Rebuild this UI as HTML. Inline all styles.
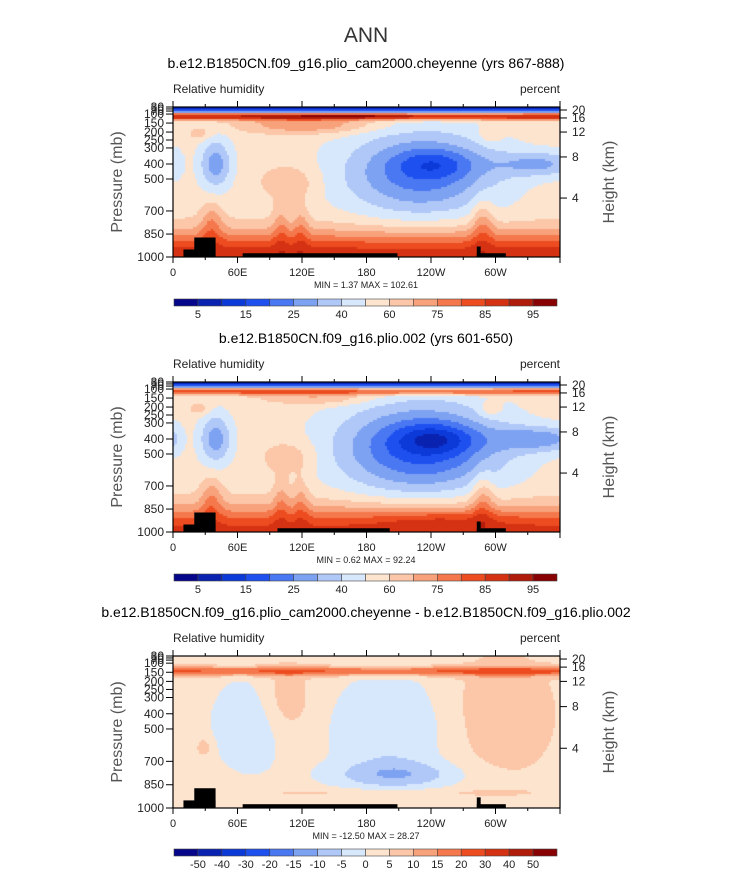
<!DOCTYPE html>
<html><head><meta charset="utf-8">
<style>
body{margin:0;background:#fff;width:733px;height:888px;overflow:hidden;font-family:"Liberation Sans",sans-serif}
#root{position:relative;width:733px;height:888px}
svg{position:absolute;left:0;top:0}
canvas{position:absolute}
</style></head><body>
<div id="root">
<canvas id="c1" width="387" height="150" style="left:173px;top:107px"></canvas>
<canvas id="c2" width="387" height="150" style="left:173px;top:382px"></canvas>
<canvas id="c3" width="387" height="152" style="left:173px;top:656px"></canvas>
<svg id="s" width="733" height="888"></svg>
</div>
<script>
const palette=["#06068a","#0a22b0","#0c3ad8","#1e50f0","#4a78f2","#7ea2f2","#b0c8f8","#d8e8fc","#fde4cf","#fbc7a8","#f8a27c","#f4784c","#ec4c20","#d43212","#b01c0a","#880204"];
const rhLabels=["5","15","25","40","60","75","85","95"];
const diffLabels=["-50","-40","-30","-20","-15","-10","-5","0","5","10","15","20","30","40","50"];
const lonLabels=["0","60E","120E","180","120W","60W"];
const presLabels=["1000","850","700","500","400","300","250","200","150","100","70","50","30"];
const presFrac=[1,0.847,0.693,0.48,0.38,0.273,0.22,0.167,0.107,0.047,0.027,0.013,0];
const kmLabels=["20","16","12","8","4"];
const kmFrac=[0.02,0.073,0.167,0.333,0.607];
// Field blobs: [u, v, su, sv, amplitude] in level units
const blobs1=[[0.5,0.065,5,0.015,5.5],[0.5,0.06,0.12,0.01,1.5],[0.35,0.12,0.12,0.04,2.5],[0.64,0.44,0.14,0.2,-4.1],[0.68,0.38,0.07,0.07,-1.8],[0.11,0.38,0.03,0.12,-3],[0.95,0.38,0.08,0.06,-2.5],[0,0.38,0.02,0.08,-1.5],[0.5,1.0,5,0.12,5.2],[0.3,0.5,0.05,0.08,1.5],[0.1,0.78,0.02,0.1,2],[0.28,0.8,0.015,0.12,1.5],[0.33,0.8,0.015,0.12,1.5],[0.8,0.78,0.02,0.12,2],[0.07,0.18,0.02,0.03,1.2],[0.82,0.18,0.02,0.04,1.2]];
const blobs2=[[0.5,0.065,5,0.015,4],[0.38,0.11,0.1,0.03,1.6],[0.64,0.44,0.15,0.21,-5.0],[0.68,0.38,0.07,0.07,-2.3],[0.11,0.38,0.03,0.12,-3],[0.95,0.38,0.08,0.06,-2.8],[0,0.38,0.02,0.08,-1.8],[0.5,1.0,5,0.12,4.8],[0.68,0.92,0.12,0.05,1.2],[0.3,0.5,0.05,0.08,1.4],[0.1,0.78,0.02,0.1,2],[0.28,0.8,0.015,0.12,1.5],[0.33,0.8,0.015,0.12,1.5],[0.8,0.78,0.02,0.12,2],[0.07,0.18,0.02,0.03,1.2],[0.82,0.18,0.02,0.04,1.2]];
const blobs3=[[0.5,0.1,5,0.022,3.6],[0.2,0.45,0.07,0.22,-1.5],[0.56,0.5,0.11,0.28,-1.5],[0.58,0.78,0.12,0.06,-1.8],[0.29,0.3,0.05,0.18,1.4],[0.85,0.38,0.1,0.3,1.3],[0.08,0.6,0.015,0.05,1.2],[0.5,0.9,0.3,0.02,0.8]];
const land1=[[0.027,0.11,0.95],[0.055,0.11,0.87],[0.18,0.58,0.975],[0.785,0.86,0.975],[0.785,0.795,0.93]];
const land2=[[0.027,0.11,0.95],[0.055,0.11,0.87],[0.27,0.56,0.975],[0.785,0.86,0.975],[0.785,0.795,0.93]];

function drawField(id,blobs,base,top){
  const c=document.getElementById(id),ctx=c.getContext('2d'),W=c.width,H=c.height,cs=2;
  for(let y=0;y<H;y+=cs){for(let x=0;x<W;x+=cs){
    const u=(x+1)/W,v=(y+1)/H;let val=base;
    for(const b of blobs){const du=(u-b[0])/b[2],dv=(v-b[1])/b[3];val+=b[4]*Math.exp(-0.5*(du*du+dv*dv));}
    if(top&&v<0.045)val=v/0.045*7.5;
    let k=Math.max(0,Math.min(15,Math.floor(val)));
    ctx.fillStyle=palette[k];ctx.fillRect(x,y,cs,cs);
  }}
}
drawField('c1',blobs1,8.5,true);
drawField('c2',blobs2,8.5,true);
drawField('c3',blobs3,8.5,false);

const NS="http://www.w3.org/2000/svg",S=document.getElementById('s');
function el(t,a,txt){const e=document.createElementNS(NS,t);for(const k in a)e.setAttribute(k,a[k]);if(txt!==undefined)e.textContent=txt;S.appendChild(e);return e;}
const t0=el('text',{x:366,y:42,'font-size':21,'text-anchor':'middle',fill:'#333'},'ANN');



function panel(top,h,title,land,cbY,labels,minmax){
  const L=173,R=560,W=R-L,B=top+h;
  const tt=el('text',{x:366,y:top-39,'font-size':14,'text-anchor':'middle',fill:'#000'},title);
  
  
  const lv=el('text',{x:173,y:top-14,'font-size':12,fill:'#222'},'Relative humidity');
  
  
  const un=el('text',{x:560,y:top-14,'font-size':12,fill:'#222','text-anchor':'end'},'percent');
  
  
  for(const l of land){
    const r=el('rect',{x:L+l[0]*W,y:top+l[2]*h,width:(l[1]-l[0])*W,height:h-l[2]*h,fill:'#000'});
    
    
  }
  const fr=el('rect',{x:L,y:top,width:W,height:h,fill:'none',stroke:'#000','stroke-width':1.2});
  
  
  for(let i=0;i<=12;i++){const x=L+i*W/12,len=i%2==0?6:3;
    el('line',{x1:x,x2:x,y1:B,y2:B+len,stroke:'#000'});el('line',{x1:x,x2:x,y1:top,y2:top-len,stroke:'#000'});}
  lonLabels.forEach((s,i)=>{const t=el('text',{x:L+i*W/6,y:B+19,'font-size':11,'text-anchor':'middle',fill:'#222'},s);
    
    });
  presLabels.forEach((s,i)=>{const y=top+presFrac[i]*h;el('line',{x1:L-7,x2:L,y1:y,y2:y,stroke:'#000'});
    const t=el('text',{x:L-9,y:y+4,'font-size':12,'text-anchor':'end',fill:'#222'},s);
    
    });
  kmLabels.forEach((s,i)=>{const y=top+kmFrac[i]*h;el('line',{x1:R,x2:R+7,y1:y,y2:y,stroke:'#000'});
    const t=el('text',{x:R+12,y:y+4,'font-size':12,fill:'#222'},s);
    
    });
  const yt=el('text',{x:0,y:0,'font-size':16,'text-anchor':'middle',fill:'#555',transform:`translate(122,${top+h/2}) rotate(-90)`},'Pressure (mb)');
  
  
  const yr=el('text',{x:0,y:0,'font-size':16,'text-anchor':'middle',fill:'#555',transform:`translate(614,${top+h/2}) rotate(-90)`},'Height (km)');
  
  
  const mm=el('text',{x:366,y:B+31,'font-size':9,'text-anchor':'middle',fill:'#222','xml:space':'preserve'},minmax);
  
  
  const cx0=174,cw=(557-174)/16;
  palette.forEach((c,i)=>{const r=el('rect',{x:cx0+i*cw,y:cbY,width:cw,height:7,fill:c,stroke:'#444','stroke-width':0.6});
    
    });
  const step=labels.length>8?1:2;
  labels.forEach((s,i)=>{const t=el('text',{x:cx0+(1+i*step)*cw,y:cbY+19,'font-size':11,'text-anchor':'middle',fill:'#222'},s);
    
    });
}
panel(107,150,'b.e12.B1850CN.f09_g16.plio_cam2000.cheyenne (yrs 867-888)',land1,299,rhLabels,'MIN =    1.37   MAX = 102.61');
panel(382,150,'b.e12.B1850CN.f09_g16.plio.002 (yrs 601-650)',land2,574,rhLabels,'MIN =    0.62   MAX =  92.24');
panel(656,152,'b.e12.B1850CN.f09_g16.plio_cam2000.cheyenne - b.e12.B1850CN.f09_g16.plio.002',land1,849,diffLabels,'MIN = -12.50   MAX =  28.27');
</script>
</body></html>
